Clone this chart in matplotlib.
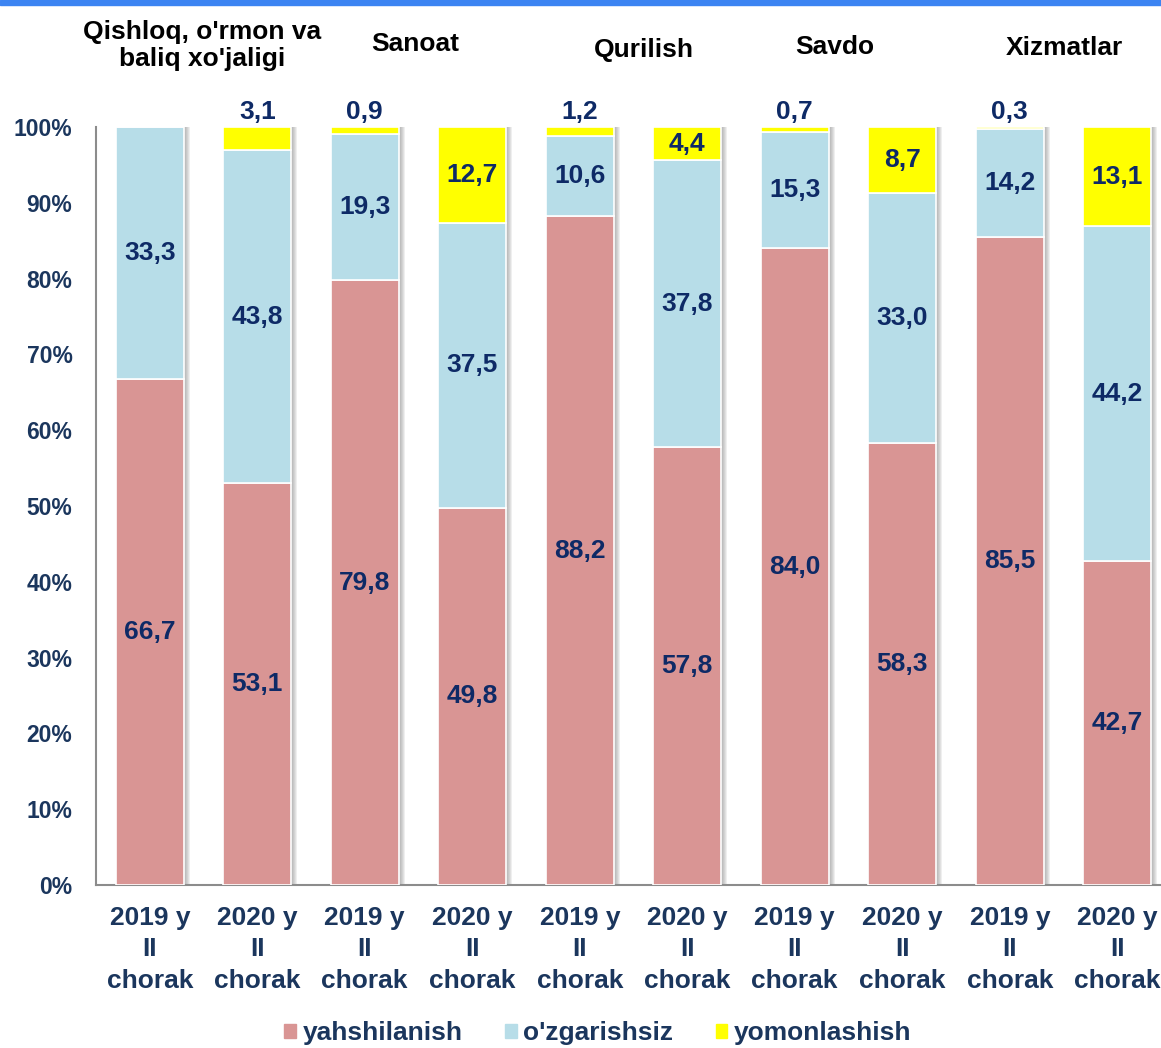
import numpy as np
import matplotlib
matplotlib.use("Agg")
import matplotlib.pyplot as plt
from matplotlib.patches import Patch, Rectangle

plt.rcParams['font.family'] = ['Liberation Sans', 'DejaVu Sans']
plt.rcParams['font.weight'] = 'bold'

# data
bar_labels = ["2019 y\nII\nchorak", "2020 y\nII\nchorak"] * 5
sectors = ["Qishloq, o'rmon va\nbaliq xo'jaligi", "Sanoat", "Qurilish", "Savdo", "Xizmatlar"]
better = [66.7, 53.1, 79.8, 49.8, 88.2, 57.8, 84.0, 58.3, 85.5, 42.7]
same = [33.3, 43.8, 19.3, 37.5, 10.6, 37.8, 15.3, 33.0, 14.2, 44.2]
worse = [0.0, 3.1, 0.9, 12.7, 1.2, 4.4, 0.7, 8.7, 0.3, 13.1]
series_names = ["yahshilanish", "o'zgarishsiz", "yomonlashish"]

c_pink = "#d99594"
c_blue = "#b7dde8"
c_yellow = "#ffff00"
navy = "#1b365d"
lab_col = "#0e2a66"

fig = plt.figure(figsize=(11.61, 10.48), dpi=100)
ax = fig.add_axes([96 / 1161, 163 / 1048, 1075 / 1161, 758 / 1048])

# top blue stripe
fig.patches.append(Rectangle((0, 1 - 5 / 1048), 1, 5 / 1048, transform=fig.transFigure,
                             color="#3c84f2", zorder=5))

x = np.arange(len(better))
w = 0.63
better = np.array(better)
same = np.array(same)
worse = np.array(worse)
total = better + same + worse

# soft shadow on the right side of each bar
for k in range(1, 7):
    ax.bar(x + k * 0.0093, total, w, color="#6f6f6f", alpha=0.11, zorder=1, linewidth=0)

ax.bar(x, better, w, color=c_pink, edgecolor="white", linewidth=1.2, zorder=3)
ax.bar(x, same, w, bottom=better, color=c_blue, edgecolor="white", linewidth=1.2, zorder=3)
ax.bar(x, worse, w, bottom=better + same, color=c_yellow, edgecolor="white", linewidth=1.2, zorder=3)

fmt = lambda v: f"{v:.1f}".replace(".", ",")
for i in range(len(x)):
    ax.text(x[i], better[i] / 2, fmt(better[i]), ha="center", va="center",
            fontsize=19, color=lab_col, zorder=6)
    ax.text(x[i], better[i] + same[i] / 2, fmt(same[i]), ha="center", va="center",
            fontsize=19, color=lab_col, zorder=6)
    if worse[i] >= 4:
        ax.text(x[i], better[i] + same[i] + worse[i] / 2, fmt(worse[i]), ha="center",
                va="center", fontsize=19, color=lab_col, zorder=6)
    elif worse[i] > 0:
        ax.text(x[i], 102.0, fmt(worse[i]), ha="center", va="center",
                fontsize=19, color=lab_col, zorder=6, clip_on=False)

# sector titles
title_x = [0.49, 2.47, 4.6, 6.37, 8.51]
title_y = [110.7, 110.9, 110.2, 110.6, 110.4]
for s, tx, ty in zip(sectors, title_x, title_y):
    ax.text(tx, ty, s, ha="center", va="center", fontsize=19, color="black",
            linespacing=1.15, clip_on=False)

ax.set_xlim(-0.5, 9.5)
ax.set_ylim(0, 100)
ax.set_yticks(np.arange(0, 101, 10))
ax.set_yticklabels([f"{v}%" for v in range(0, 101, 10)], fontsize=16.5, color=navy)
ax.set_xticks(x)
ax.set_xticklabels(bar_labels, fontsize=19, color=navy, linespacing=1.4)
ax.tick_params(axis="both", length=0)
ax.tick_params(axis="y", pad=17)
ax.tick_params(axis="x", pad=15)
for sp in ["top", "right"]:
    ax.spines[sp].set_visible(False)
for sp in ["left", "bottom"]:
    ax.spines[sp].set_color("#8c8c8c")
    ax.spines[sp].set_linewidth(1.5)

handles = [Patch(color=c) for c in [c_pink, c_blue, c_yellow]]
leg = fig.legend(handles, series_names, loc="center", bbox_to_anchor=(0.515, 0.014),
                 ncol=3, frameon=False, fontsize=19, handlelength=0.45, handleheight=0.45,
                 handletextpad=0.25, columnspacing=1.6)
for t in leg.get_texts():
    t.set_color(navy)

fig.savefig("out.png", dpi=100)
